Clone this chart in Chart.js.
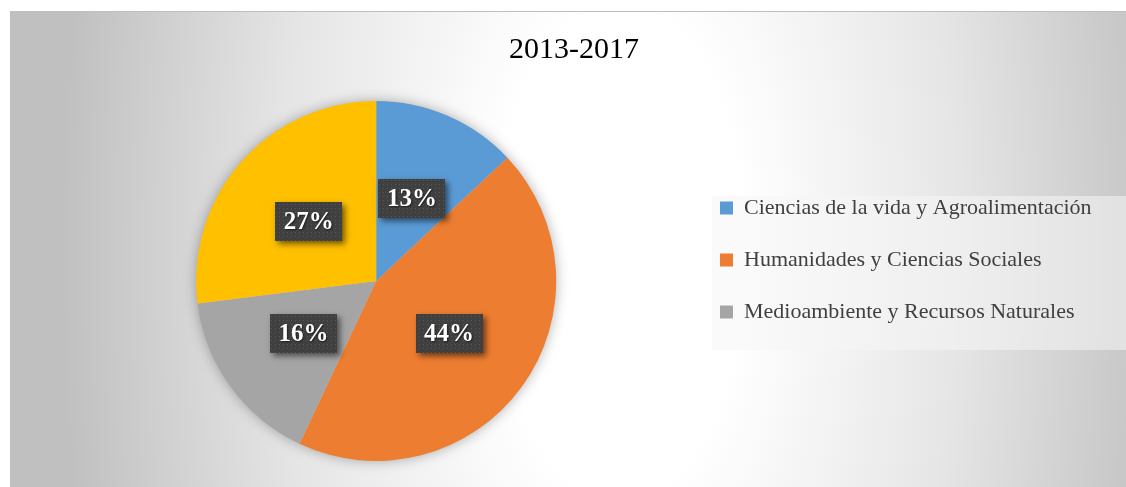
<!DOCTYPE html>
<html>
<head>
<meta charset="utf-8">
<script src="https://cdn.jsdelivr.net/npm/chart.js@4"></script>
<style>
  html, body { margin: 0; padding: 0; background: #fff; overflow: hidden; width: 1126px; height: 487px; }
  #wrap { position: absolute; left: 10px; top: 11px; width: 1130px; height: 476px; }
</style>
</head>
<body>
<div id="wrap"><canvas id="pieChart" width="1130" height="476"></canvas></div>
<script>
// values (percent)
var chartTitle = '2013-2017';
var categories = [
  'Ciencias de la vida y Agroalimentación',
  'Humanidades y Ciencias Sociales',
  'Medioambiente y Recursos Naturales',
  '' // fourth category, its legend entry is cut off in the original
];
var shares = [13, 44, 16, 27];
var sliceColors = ['#5B9BD5', '#ED7D31', '#A5A5A5', '#FFC000'];

// dark dotted fill used behind the percentage labels
function dotPattern(ctx) {
  var c = document.createElement('canvas');
  c.width = 4; c.height = 4;
  var p = c.getContext('2d');
  p.fillStyle = '#404040';
  p.fillRect(0, 0, 4, 4);
  p.fillStyle = '#575757';
  p.fillRect(1, 1, 1, 1);
  return ctx.createPattern(c, 'repeat');
}

var backdrop = {
  id: 'backdrop',
  afterLayout(chart) {
    // move legend and title like the Excel layout
    var lg = chart.legend;
    var dx = 680 - lg.left;
    lg.left += dx; lg.right += dx;
    lg.top += 24; lg.bottom += 24;
    var tb = chart.titleBlock;
    tb.left -= 8; tb.right -= 8;
  },
  beforeDraw(chart) {
    var ctx = chart.ctx, w = chart.width, h = chart.height;
    ctx.save();
    // tall elliptical white-to-grey glow
    ctx.translate(610, 240);
    ctx.scale(1, 2);
    var g = ctx.createRadialGradient(0, 0, 0, 0, 0, 560);
    g.addColorStop(0, '#ffffff');
    g.addColorStop(0.22, '#ffffff');
    g.addColorStop(0.6, '#e6e6e6');
    g.addColorStop(1, '#c0c0c0');
    ctx.fillStyle = g;
    ctx.fillRect(-610, -120, w, h / 2);
    ctx.restore();
    ctx.save();
    ctx.fillStyle = '#bfbfbf';
    ctx.fillRect(0, 0, w, 1);
    ctx.fillRect(0, 0, 1, h);
    // legend panel
    ctx.fillStyle = 'rgba(245,245,245,0.55)';
    ctx.fillRect(702, 185, w - 702, 154);
    ctx.restore();
  },
  beforeDatasetsDraw(chart) {
    var arc = chart.getDatasetMeta(0).data[0];
    if (!arc) return;
    var ctx = chart.ctx;
    ctx.save();
    ctx.shadowColor = 'rgba(0,0,0,0.35)';
    ctx.shadowBlur = 14;
    ctx.fillStyle = '#cccccc';
    ctx.beginPath();
    ctx.arc(arc.x, arc.y, arc.outerRadius - 1, 0, Math.PI * 2);
    ctx.fill();
    ctx.restore();
  },
  afterDatasetsDraw(chart) {
    var ctx = chart.ctx;
    var meta = chart.getDatasetMeta(0);
    var fill = dotPattern(ctx);
    ctx.save();
    ctx.font = 'bold 25px "Liberation Serif", serif';
    ctx.textAlign = 'center';
    ctx.textBaseline = 'middle';
    meta.data.forEach(function (arc, i) {
      var pos = arc.tooltipPosition();
      var txt = shares[i] + '%';
      var bw = Math.round(ctx.measureText(txt).width + 17), bh = 39;
      var bx = Math.round(pos.x - bw / 2), by = Math.round(pos.y - bh / 2);
      ctx.save();
      ctx.shadowColor = 'rgba(0,0,0,0.55)';
      ctx.shadowBlur = 6;
      ctx.shadowOffsetX = 3;
      ctx.shadowOffsetY = 3;
      ctx.fillStyle = '#404040';
      ctx.fillRect(bx, by, bw, bh);
      ctx.restore();
      ctx.fillStyle = fill;
      ctx.fillRect(bx, by, bw, bh);
      ctx.save();
      ctx.shadowColor = 'rgba(0,0,0,0.6)';
      ctx.shadowBlur = 2;
      ctx.shadowOffsetX = 1;
      ctx.shadowOffsetY = 1;
      ctx.fillStyle = '#ffffff';
      ctx.fillText(txt, pos.x, pos.y + 1);
      ctx.restore();
    });
    ctx.restore();
  }
};

var ctx = document.getElementById('pieChart').getContext('2d');
var chart = new Chart(ctx, {
  type: 'pie',
  data: {
    labels: categories,
    datasets: [{
      data: shares,
      backgroundColor: sliceColors,
      borderWidth: 0
    }]
  },
  options: {
    responsive: false,
    animation: false,
    layout: { padding: { left: 16, right: 2, top: 0, bottom: 26 } },
    plugins: {
      title: {
        display: true,
        text: chartTitle,
        color: '#000',
        font: { family: '"Liberation Serif", serif', size: 30, weight: 'normal' },
        padding: { top: 21, bottom: 33 }
      },
      legend: {
        position: 'right',
        align: 'center',
        labels: {
          boxWidth: 13,
          boxHeight: 13,
          padding: 30,
          color: '#404040',
          font: { family: '"Liberation Serif", serif', size: 22 },
          filter: function (item) { return item.text !== ''; }
        }
      },
      tooltip: { enabled: false }
    }
  },
  plugins: [backdrop]
});
</script>
</body>
</html>
